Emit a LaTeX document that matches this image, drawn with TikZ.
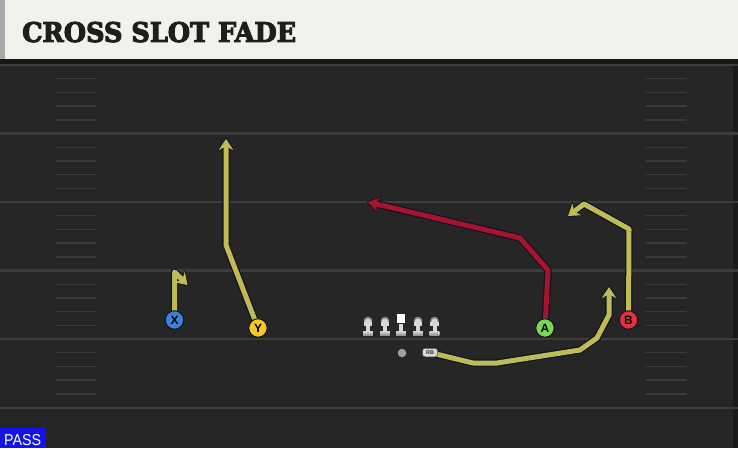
\documentclass[tikz,border=0pt]{standalone}
\usepackage{fontspec}
\usetikzlibrary{arrows.meta}
\newfontfamily\titlefont{DejaVu Serif}[BoldFeatures={FakeBold=4}]
\newfontfamily\labelfont{Liberation Sans}
\definecolor{fieldbg}{HTML}{262626}
\definecolor{yardc}{HTML}{3C3C3C}
\definecolor{hashc}{HTML}{3A3A3A}
\definecolor{titlebg}{HTML}{F3F1EB}
\definecolor{titlestrip}{HTML}{A9A9A9}
\definecolor{bandc}{HTML}{171717}
\definecolor{routeY}{HTML}{BFBB55}
\definecolor{routeR}{HTML}{A6132D}
\definecolor{outlinec}{HTML}{121226}
\definecolor{plX}{HTML}{3F80D9}
\definecolor{plY}{HTML}{F6C62A}
\definecolor{plA}{HTML}{78D94F}
\definecolor{plB}{HTML}{E2313E}
\definecolor{passblue}{HTML}{1414E6}
\definecolor{lmlight}{HTML}{D8D8D8}
\definecolor{lmdark}{HTML}{8E8E8E}
\definecolor{titletext}{HTML}{1E1E1E}
\tikzset{
  yard/.style={draw=yardc, line width=2.4pt},
  hashmark/.style={draw=hashc, line width=1.4pt, line cap=round},
  routeout/.style={draw=outlinec, line width=7.4pt, line join=round,
    shorten >=-1.6pt, -{Stealth[length=14pt,width=18pt,inset=4.5pt]}},
  routein/.style={line width=5pt, line join=round,
    -{Stealth[length=11pt,width=14.5pt,inset=3.5pt]}},
  player/.style={circle, draw=outlinec, line width=1pt, minimum size=18.5pt,
    inner sep=0pt, font=\labelfont\bfseries\fontsize{12}{12}\selectfont, text=black},
  lineman/.pic={
    \fill[top color=lmlight, bottom color=lmdark] (-4.8,10) rectangle (4.8,14.5);
    \fill[lmlight] (-2,3) rectangle (2,10.5);
    \fill[lmdark] (0,0) circle[radius=4.3];
    \fill[lmlight] (0,1) circle[radius=3.3];
    \fill[lmlight] (-4.3,0.5) rectangle (4.3,4.5);
  },
  centerman/.pic={
    \fill[top color=lmlight, bottom color=lmdark] (-4.8,10) rectangle (4.8,14.5);
    \fill[lmlight] (-2,3) rectangle (2,10.5);
    \fill[white] (-4.2,-7) rectangle (4.2,1.5);
  }
}
\newcommand{\routepath}[2]{\draw[routeout] #2; \draw[routein, draw=#1] #2;}
\begin{document}
\begin{tikzpicture}[x=1pt, y=-1pt]
\useasboundingbox (0,0) rectangle (738,448);
% field
\fill[fieldbg] (0,0) rectangle (738,448);
\fill[bandc!80!fieldbg] (733,59) rectangle (738,448);
% yard lines
\foreach \yy in {65,133.5,202,270.5,339,408} {
  \draw[yard] (0,\yy) -- (738,\yy);
}
% hash marks
\foreach \yy in {65,133.5,202,270.5,339} {
  \foreach \k in {1,2,3,4} {
    \draw[hashmark] (56,\yy+13.7*\k) -- (96,\yy+13.7*\k);
    \draw[hashmark] (646,\yy+13.7*\k) -- (686,\yy+13.7*\k);
  }
}
% title bar
\fill[titlebg] (0,0) rectangle (738,59);
\fill[titlestrip] (0,0) rectangle (5,59);
\fill[bandc] (0,59) rectangle (738,63.5);
\node[anchor=south west, inner sep=0pt, text=titletext] (title) at (22,42.5)
  {\resizebox{274pt}{20pt}{\titlefont\bfseries CROSS SLOT FADE}};
% players (positions)
\coordinate (Xc) at (174.5,320);
\coordinate (Yc) at (258,328);
\coordinate (Ac) at (545,328);
\coordinate (Bc) at (628.5,320);
\coordinate (RBc) at (430,352.5);
% waypoints
\coordinate (x1) at (174.5,272);
\coordinate (x2) at (187.5,285);
\coordinate (y1) at (226,245);
\coordinate (y2) at (226,139);
\coordinate (a1) at (548,270);
\coordinate (a2) at (520,238);
\coordinate (a3) at (368,202);
\coordinate (b1) at (629,229);
\coordinate (b2) at (584,204);
\coordinate (b3) at (568,216);
\coordinate (r1) at (473,363);
\coordinate (r2) at (497,363);
\coordinate (r3) at (580,350);
\coordinate (r4) at (597,338);
\coordinate (r5) at (609,315);
\coordinate (r6) at (609,287);
% routes
\routepath{routeY}{(Xc) -- (x1) -- (x2)}
\routepath{routeY}{(Yc) -- (y1) -- (y2)}
\routepath{routeR}{(Ac) -- (a1) -- (a2) -- (a3)}
\routepath{routeY}{(Bc) -- (b1) -- (b2) -- (b3)}
\routepath{routeY}{(RBc) -- (r1) -- (r2) -- (r3) -- (r4) -- (r5) -- (r6)}
% players
\node[player, fill=plX] (X) at (Xc) {X};
\node[player, fill=plY] (Y) at (Yc) {Y};
\node[player, fill=plA] (A) at (Ac) {A};
\node[player, fill=plB] (B) at (Bc) {B};
% offensive line
\pic at (368,321) {lineman};
\pic at (385,321) {lineman};
\pic at (401,321) {centerman};
\pic at (418,321) {lineman};
\pic at (434.5,321) {lineman};
% QB and RB
\node[circle, fill=gray!75!black!60, minimum size=8.5pt, inner sep=0pt] (QB) at (402,353) {};
\node[rectangle, rounded corners=2.5pt, fill=lmlight, draw=gray!60!black, line width=0.5pt,
  minimum width=15pt, minimum height=8.5pt, inner sep=0pt,
  font=\labelfont\bfseries\fontsize{5.5}{5.5}\selectfont, text=black!80] (RB) at (RBc) {RB};
% pass label
\fill[passblue] (0,428) rectangle (46,448);
\node[anchor=south west, inner sep=0pt, text=white] (pass) at (4,445.5)
  {\resizebox{37pt}{11pt}{\labelfont PASS}};
\end{tikzpicture}
\end{document}
